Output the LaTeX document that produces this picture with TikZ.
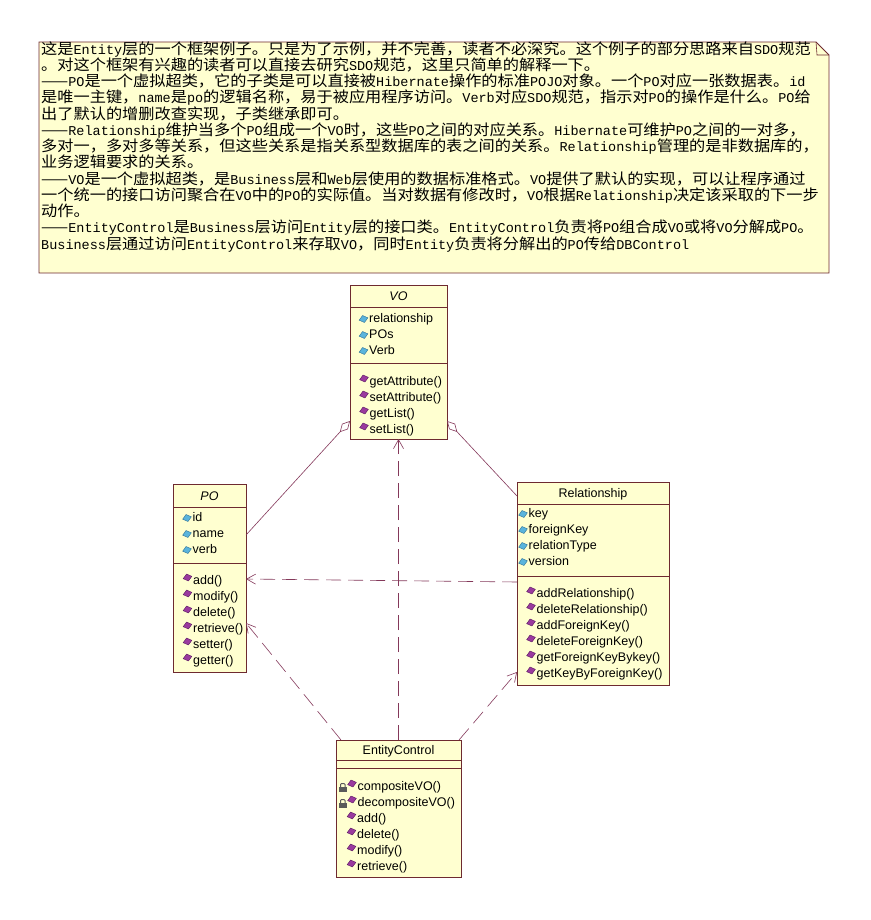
\documentclass[tikz,border=0pt]{standalone}
\usepackage{fontspec}
\setmainfont{Liberation Sans}
\newfontfamily\cjk[FakeStretch=1.08]{Noto Sans CJK SC}
\newfontfamily\lmono{Liberation Mono}
\usetikzlibrary{arrows.meta}
\definecolor{notefill}{HTML}{FFFFD0}
\definecolor{boxline}{HTML}{6E2A30}
\definecolor{conn}{HTML}{84385A}
\definecolor{attrblue}{HTML}{5AB4DC}
\definecolor{attrdark}{HTML}{2A6E96}
\definecolor{oppurple}{HTML}{9A3A9E}
\definecolor{opdark}{HTML}{5A1A60}
\definecolor{lockgray}{HTML}{5A5A5A}
\newcommand\mm[1]{{\lmono\fontsize{13.5}{16}\selectfont #1}}
\newcommand\attr[4]{%
  \path[draw=attrdark, fill=attrblue, line width=0.4pt, shift={(#2,#3+1)}, rotate=15] (-4.5,0) -- (0,-3.6) -- (4.5,0) -- (0,3.6) -- cycle;
  \node[rowtext] (#1) at (#2+5.5, #3+4.5) {#4};}
\newcommand\oper[4]{%
  \path[draw=opdark, fill=oppurple, line width=0.4pt, shift={(#2,#3-2.5)}, rotate=15] (-4.5,0) -- (0,-3.6) -- (4.5,0) -- (0,3.6) -- cycle;
  \node[rowtext] (#1) at (#2+5.5, #3+4.5) {#4};}
\newcommand\lockicon[2]{%
  \draw[lockgray, line width=1pt, rounded corners=1pt] (#1-2.5,#2) -- (#1-2.5,#2-3.5) -- (#1+2,#2-3.5) -- (#1+2,#2);
  \fill[lockgray] (#1-4.5,#2-0.5) rectangle (#1+4,#2+5);}
\begin{document}
\begin{tikzpicture}[x=1pt,y=-1pt,
  cls/.style={draw=boxline, fill=notefill, line width=0.8pt, anchor=north west, inner sep=0pt, outer sep=0pt},
  divider/.style={draw=boxline, line width=0.8pt},
  rowtext/.style={anchor=base west, inner sep=0pt, font=\fontsize{12.5}{14}\selectfont},
  clsname/.style={anchor=base, inner sep=0pt, font=\fontsize{12.5}{14}\selectfont},
  notetext/.style={anchor=base west, inner sep=0pt, font=\cjk\fontsize{15}{16}\selectfont},
  agg/.style={draw=conn, line width=0.6pt, {Diamond[open, length=15pt, width=8pt]}-},
  dep/.style={draw=conn, line width=0.6pt, dash pattern=on 15pt off 7pt, -{Straight Barb[length=9pt, width=10pt]}}
]
\useasboundingbox (0,0) rectangle (870,920);
\fill[white] (0,0) rectangle (870,920);

% note
\draw[boxline, fill=notefill, line width=0.8pt] (39,42) -- (816,42) -- (829,55) -- (829,273) -- (39,273) -- cycle;
\draw[boxline, line width=0.6pt] (816,42) -- (817,55) -- (829,55);
\node[notetext] (n1) at (41,54.2) {这是\mm{Entity}层的一个框架例子。只是为了示例，并不完善，读者不必深究。这个例子的部分思路来自\mm{SDO}规范};
\node[notetext] (n2) at (41,70.45) {。对这个框架有兴趣的读者可以直接去研究\mm{SDO}规范，这里只简单的解释一下。};
\node[notetext] (n3) at (41,86.7) {——\mm{PO}是一个虚拟超类，它的子类是可以直接被\mm{Hibernate}操作的标准\mm{POJO}对象。一个\mm{PO}对应一张数据表。\mm{id}};
\node[notetext] (n4) at (41,102.95) {是唯一主键，\mm{name}是\mm{po}的逻辑名称，易于被应用程序访问。\mm{Verb}对应\mm{SDO}规范，指示对\mm{PO}的操作是什么。\mm{PO}给};
\node[notetext] (n5) at (41,119.2) {出了默认的增删改查实现，子类继承即可。};
\node[notetext] (n6) at (41,135.45) {——\mm{Relationship}维护当多个\mm{PO}组成一个\mm{VO}时，这些\mm{PO}之间的对应关系。\mm{Hibernate}可维护\mm{PO}之间的一对多，};
\node[notetext] (n7) at (41,151.7) {多对一，多对多等关系，但这些关系是指关系型数据库的表之间的关系。\mm{Relationship}管理的是非数据库的，};
\node[notetext] (n8) at (41,167.95) {业务逻辑要求的关系。};
\node[notetext] (n9) at (41,184.2) {——\mm{VO}是一个虚拟超类，是\mm{Business}层和\mm{Web}层使用的数据标准格式。\mm{VO}提供了默认的实现，可以让程序通过};
\node[notetext] (n10) at (41,200.45) {一个统一的接口访问聚合在\mm{VO}中的\mm{PO}的实际值。当对数据有修改时，\mm{VO}根据\mm{Relationship}决定该采取的下一步};
\node[notetext] (n11) at (41,216.7) {动作。};
\node[notetext] (n12) at (41,232.95) {——\mm{EntityControl}是\mm{Business}层访问\mm{Entity}层的接口类。\mm{EntityControl}负责将\mm{PO}组合成\mm{VO}或将\mm{VO}分解成\mm{PO}。};
\node[notetext] (n13) at (41,249.2) {\mm{Business}层通过访问\mm{EntityControl}来存取\mm{VO}，同时\mm{Entity}负责将分解出的\mm{PO}传给\mm{DBControl}};

% VO
\node[cls, minimum width=97pt, minimum height=154pt] (vo) at (350,285) {};
\draw[divider] ([yshift=-22pt]vo.north west) -- ([yshift=-22pt]vo.north east);
\draw[divider] ([yshift=-78pt]vo.north west) -- ([yshift=-78pt]vo.north east);
\node[clsname, font=\fontsize{12.5}{14}\selectfont\itshape] (voname) at (398.5,300.5) {VO};
\attr{voa1}{363.5}{318}{relationship}
\attr{voa2}{363.5}{334}{POs}
\attr{voa3}{363.5}{350}{Verb}
\oper{voo1}{364}{381}{getAttribute()}
\oper{voo2}{364}{397}{setAttribute()}
\oper{voo3}{364}{413}{getList()}
\oper{voo4}{364}{429}{setList()}

% PO
\node[cls, minimum width=73pt, minimum height=188pt] (po) at (173,484) {};
\draw[divider] ([yshift=-23pt]po.north west) -- ([yshift=-23pt]po.north east);
\draw[divider] ([yshift=-79pt]po.north west) -- ([yshift=-79pt]po.north east);
\node[clsname, font=\fontsize{12.5}{14}\selectfont\itshape] (poname) at (209.5,500.5) {PO};
\attr{poa1}{187}{517}{id}
\attr{poa2}{187}{533}{name}
\attr{poa3}{187}{549}{verb}
\oper{poo1}{187.5}{580}{add()}
\oper{poo2}{187.5}{596}{modify()}
\oper{poo3}{187.5}{612}{delete()}
\oper{poo4}{187.5}{628}{retrieve()}
\oper{poo5}{187.5}{644}{setter()}
\oper{poo6}{187.5}{660}{getter()}

% Relationship
\node[cls, minimum width=152pt, minimum height=203pt] (rel) at (517,482) {};
\draw[divider] ([yshift=-22pt]rel.north west) -- ([yshift=-22pt]rel.north east);
\draw[divider] ([yshift=-94pt]rel.north west) -- ([yshift=-94pt]rel.north east);
\node[clsname] (relname) at (593,497.5) {Relationship};
\attr{rela1}{523}{513}{key}
\attr{rela2}{523}{529}{foreignKey}
\attr{rela3}{523}{545}{relationType}
\attr{rela4}{523}{561}{version}
\oper{relo1}{531}{593}{addRelationship()}
\oper{relo2}{531}{609}{deleteRelationship()}
\oper{relo3}{531}{625}{addForeignKey()}
\oper{relo4}{531}{641}{deleteForeignKey()}
\oper{relo5}{531}{657}{getForeignKeyBykey()}
\oper{relo6}{531}{673}{getKeyByForeignKey()}

% EntityControl
\node[cls, minimum width=125pt, minimum height=137pt] (ec) at (336,740) {};
\draw[divider] ([yshift=-20pt]ec.north west) -- ([yshift=-20pt]ec.north east);
\draw[divider] ([yshift=-28pt]ec.north west) -- ([yshift=-28pt]ec.north east);
\node[clsname] (ecname) at (398.5,754.5) {EntityControl};
\lockicon{343}{787}
\oper{eco1}{352}{786}{compositeVO()}
\lockicon{343}{803}
\oper{eco2}{352}{802}{decompositeVO()}
\oper{eco3}{351.5}{818}{add()}
\oper{eco4}{351.5}{834}{delete()}
\oper{eco5}{351.5}{850}{modify()}
\oper{eco6}{351.5}{866}{retrieve()}

% connectors
\coordinate (voAL) at ([yshift=-136pt]vo.north west);
\coordinate (voAR) at ([yshift=-136pt]vo.north east);
\coordinate (poA) at ([yshift=-51pt]po.north east);
\coordinate (relA) at ([yshift=-14pt]rel.north west);
\coordinate (relD) at ([yshift=-100pt]rel.north west);
\coordinate (poD) at ([yshift=-95pt]po.north east);
\coordinate (ecL) at ([xshift=5pt]ec.north west);
\coordinate (poE) at ([yshift=-139pt]po.north east);
\coordinate (ecR) at ([xshift=-2pt]ec.north east);
\coordinate (relE) at ([yshift=-190pt]rel.north west);

\draw[agg] (voAL) -- (poA);
\draw[agg] (voAR) -- (relA);
\draw[dep] (relD) -- (poD);
\draw[dep] (ec.north) -- (vo.south);
\draw[dep] (ecL) -- (poE);
\draw[dep] (ecR) -- (relE);
\end{tikzpicture}
\end{document}
